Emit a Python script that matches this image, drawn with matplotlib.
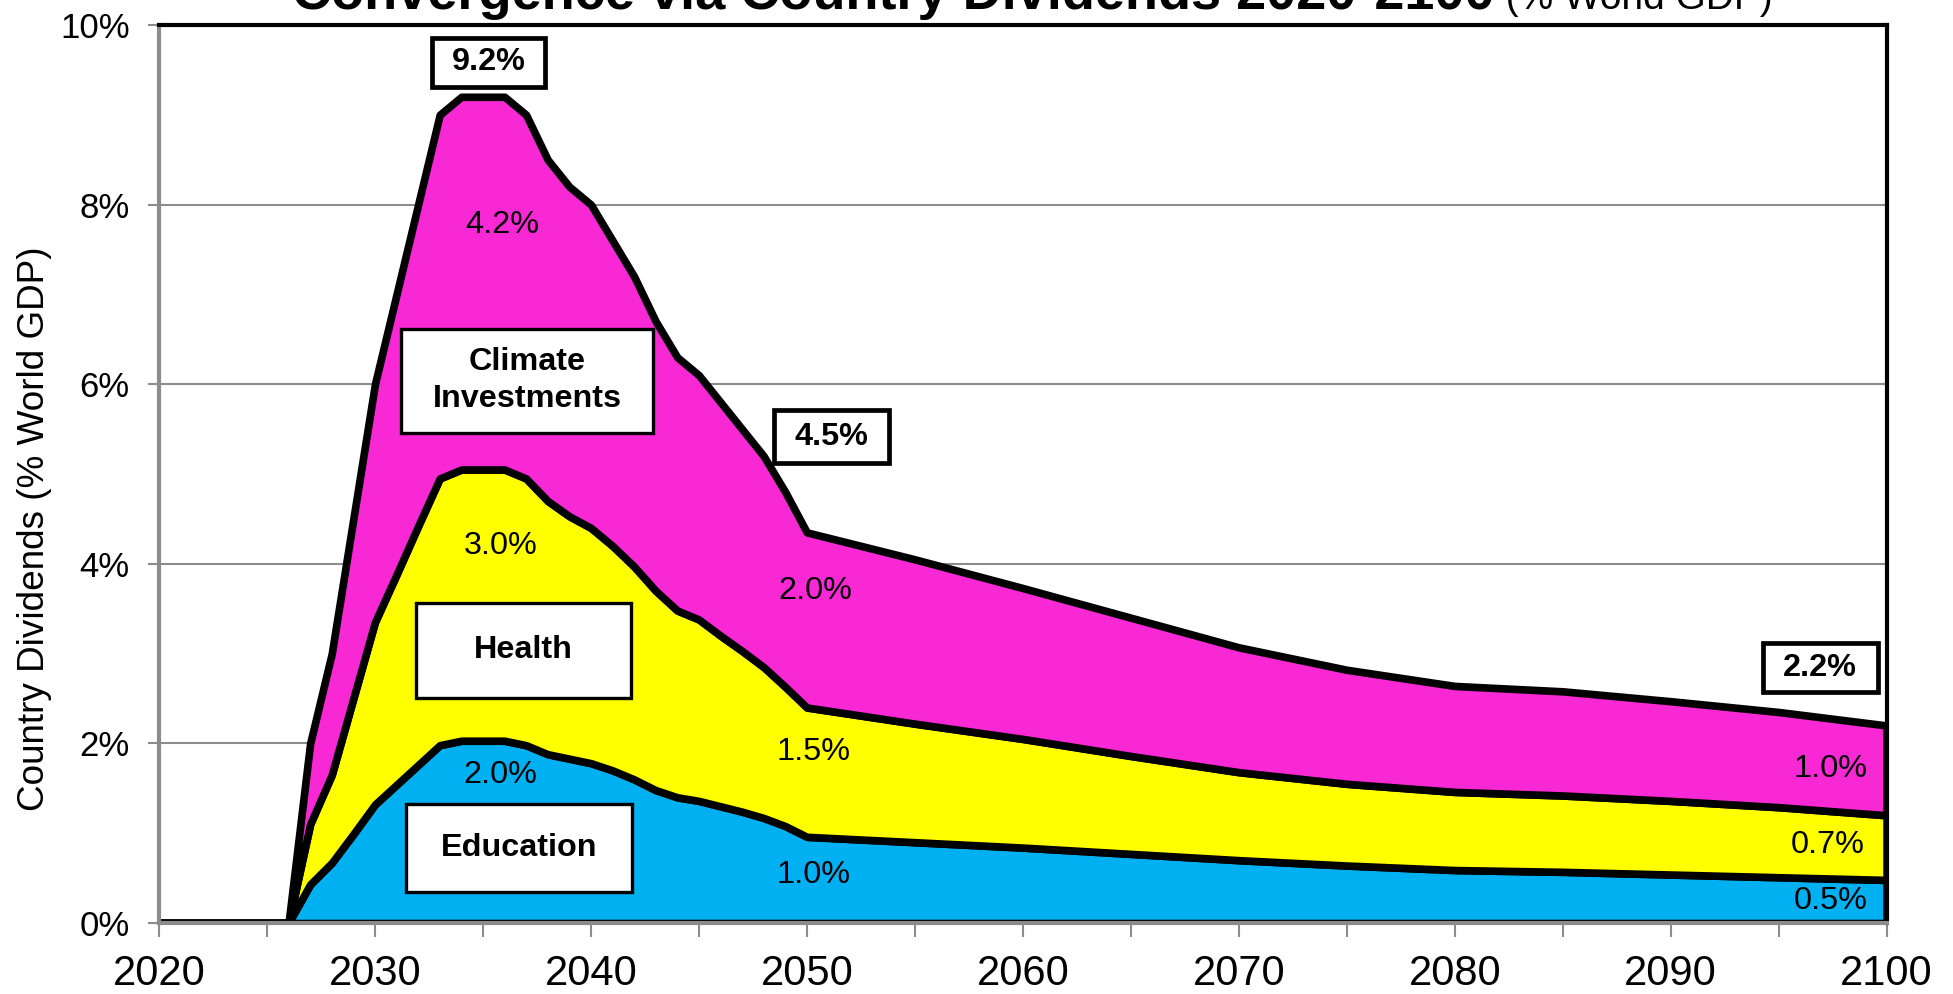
import matplotlib
matplotlib.use("Agg")
import matplotlib.pyplot as plt
from matplotlib.patches import Rectangle
from matplotlib.ticker import FuncFormatter, MultipleLocator

plt.rcParams["font.family"] = ["Liberation Sans", "DejaVu Sans"]

# ---- data (% of world GDP) ----
years = list(range(2020, 2051)) + list(range(2055, 2101, 5))

education = [0, 0, 0, 0, 0, 0, 0,
             0.43, 0.67, 0.99, 1.32, 1.54, 1.76, 1.98, 2.03, 2.03, 2.03,
             1.98, 1.88, 1.83, 1.78, 1.70, 1.60, 1.48, 1.40, 1.36, 1.30,
             1.24, 1.17, 1.08, 0.96,
             0.90, 0.84, 0.77, 0.70, 0.64, 0.59, 0.57, 0.54, 0.51, 0.48]
health = [0, 0, 0, 0, 0, 0, 0,
          0.67, 0.98, 1.51, 2.03, 2.34, 2.66, 2.97, 3.02, 3.02, 3.02,
          2.97, 2.82, 2.70, 2.62, 2.50, 2.37, 2.22, 2.08, 2.02, 1.90,
          1.79, 1.68, 1.55, 1.44,
          1.32, 1.21, 1.09, 0.98, 0.91, 0.87, 0.85, 0.82, 0.78, 0.72]
climate = [0, 0, 0, 0, 0, 0, 0,
           0.90, 1.35, 2.00, 2.65, 3.12, 3.58, 4.05, 4.15, 4.15, 4.15,
           4.05, 3.80, 3.67, 3.60, 3.40, 3.23, 3.00, 2.82, 2.72, 2.60,
           2.47, 2.35, 2.17, 1.95,
           1.83, 1.68, 1.54, 1.39, 1.27, 1.18, 1.16, 1.11, 1.06, 1.00]

colors = ["#00B0F0", "#FFFF00", "#F828D4"]

# value labels inside the areas: (text, year, y, ha)
area_labels = [("4.2%", 2035.9, 7.77, "center"), ("3.0%", 2035.8, 4.20, "center"),
               ("2.0%", 2035.8, 1.65, "center"), ("2.0%", 2050.4, 3.70, "center"),
               ("1.5%", 2050.3, 1.90, "center"), ("1.0%", 2050.3, 0.53, "center"),
               ("1.0%", 2099.1, 1.72, "right"), ("0.7%", 2099.0, 0.87, "right"),
               ("0.5%", 2099.1, 0.24, "right")]

# boxed labels: (text, x0, x1, y0, y1, heavy border)
boxes = [("9.2%", 2032.63, 2037.88, 9.31, 9.86, True),
         ("4.5%", 2048.49, 2053.79, 5.12, 5.71, True),
         ("2.2%", 2094.28, 2099.58, 2.57, 3.12, True),
         ("Climate\nInvestments", 2031.19, 2042.89, 5.46, 6.62, False),
         ("Health", 2031.88, 2041.86, 2.51, 3.56, False),
         ("Education", 2031.42, 2041.91, 0.35, 1.32, False)]

fig = plt.figure(figsize=(19.53, 9.94), dpi=100)
ax = fig.add_axes([0.0814, 0.0714, 0.8846, 0.9035])

polys = ax.stackplot(years, education, health, climate, colors=colors,
                     edgecolor="black", linewidth=5.5, zorder=2)
for p in polys:
    p.set_joinstyle("round")

ax.set_xlim(2020, 2100)
ax.set_ylim(0, 10)
ax.yaxis.set_major_locator(MultipleLocator(2))
ax.yaxis.set_major_formatter(FuncFormatter(lambda v, _: f"{v:.0f}%"))
ax.xaxis.set_major_locator(MultipleLocator(10))
ax.xaxis.set_minor_locator(MultipleLocator(5))
ax.grid(axis="y", color="#8c8c8c", linewidth=1.5, zorder=1)
ax.set_axisbelow(True)

ax.tick_params(axis="x", which="both", direction="out", length=10, width=1.5,
               color="#8c8c8c", labelsize=30, pad=12)
ax.tick_params(axis="y", direction="out", length=8, width=1.5,
               color="#8c8c8c", labelsize=25, pad=13)

for s in ("top", "right"):
    ax.spines[s].set_color("black")
    ax.spines[s].set_linewidth(3)
for s in ("left", "bottom"):
    ax.spines[s].set_color("#8c8c8c")
    ax.spines[s].set_linewidth(3)
for s in ax.spines.values():
    s.set_zorder(5)

for txt, x, y, ha in area_labels:
    ax.text(x, y, txt, ha=ha, va="center", fontsize=23.3, zorder=4)

for txt, x0, x1, y0, y1, heavy in boxes:
    ax.add_patch(Rectangle((x0, y0), x1 - x0, y1 - y0, facecolor="white",
                           edgecolor="black", linewidth=3.4 if heavy else 2.4,
                           zorder=3))
    ax.text((x0 + x1) / 2, (y0 + y1) / 2, txt, ha="center", va="center",
            fontsize=23.3, fontweight="bold", linespacing=1.3, zorder=4)

fig.text(35 / 1953, 0.468, "Country Dividends (% World GDP)", rotation=90,
         ha="center", va="center", fontsize=26.6)

# title sits partly above the canvas in the reference
ty = 1 - 9 / 994
fig.text(0.7655, ty, "Convergence via Country Dividends 2020-2100", ha="right",
         va="baseline", fontsize=39, fontweight="bold")
fig.text(0.7655, ty, " (% World GDP)", ha="left", va="baseline", fontsize=28)

fig.savefig("out.png", dpi=100)
